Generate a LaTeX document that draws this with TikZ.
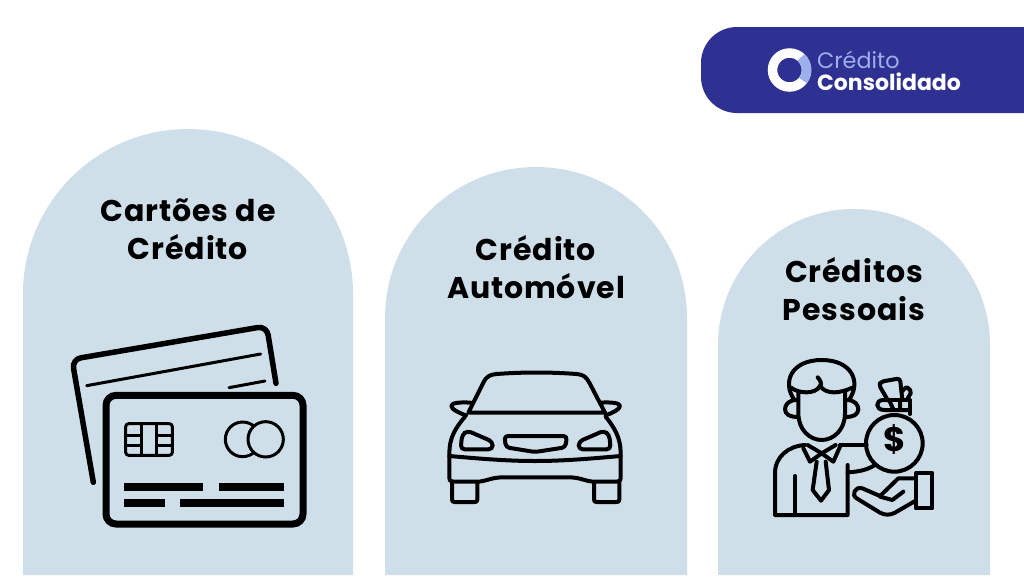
\documentclass[tikz,border=0pt]{standalone}
\usepackage{fontspec}
\newfontfamily\titlefont[LetterSpace=3]{Poppins}
\newfontfamily\logofont{Poppins}
\definecolor{archblue}{HTML}{CFDFEA}
\definecolor{logoblue}{HTML}{2E3192}
\definecolor{logolight}{HTML}{9DB0EC}
\tikzset{
  title/.style={align=center,font=\titlefont\bfseries\fontsize{30}{38}\selectfont},
  icon/.style={line width=4pt,line cap=round,line join=round},
  thin icon/.style={line width=3pt,line cap=butt,line join=round},
}
\begin{document}
\begin{tikzpicture}[x=1pt,y=-1pt]
\useasboundingbox (0,0) rectangle (1024,576);
\fill[white] (0,0) rectangle (1024,576);

% arches
\fill[archblue] (23,575) -- (23,294) arc (180:360:165) -- (353,575) -- cycle;
\fill[archblue] (385,575) -- (385,318) arc (180:360:151) -- (687,575) -- cycle;
\fill[archblue] (718,575) -- (718,345) arc (180:360:136) -- (990,575) -- cycle;

\node[title] (cards) at (188,229) {Cartões de\\Crédito};
\node[title] (auto) at (536,267) {Crédito\\Automóvel};
\node[title] (personal) at (854,289.5) {Créditos\\Pessoais};

% logo
\fill[logoblue] (1024,27) -- (737,27) arc (270:180:36) -- (701,77) arc (180:90:36) -- (1024,113) -- cycle;
\draw[white,line width=9.5pt] (789.5,70) circle (17);
\draw[logolight,line width=9.5pt] (789.5,70) ++(-48:17) arc (-48:38:17);
\node[anchor=west,inner sep=0pt,text=logolight,font=\logofont\fontsize{22.3}{24}\selectfont] (credit) at (817,60) {Crédito};
\node[anchor=west,inner sep=0pt,text=white,font=\logofont\bfseries\fontsize{22}{24}\selectfont] (consol) at (817,82) {Consolidado};

% card
\begin{scope}[shift={(60,320)},scale=1/3]
\draw[line width=5.5pt,line cap=round,rounded corners=9pt] (100,487) -- (36,118) -- (620,18) -- (648,190);
\draw[line width=3pt,line cap=round] (80,197) -- (602,102);
\draw[line width=3pt,line cap=round] (507,203) -- (615,183);
\draw[line width=7pt,rounded corners=10pt] (138,226) rectangle (729,612);
\draw[thin icon,rounded corners=3pt] (197,311) rectangle (337,406);
\draw[thin icon] (243,311) -- (243,406) (290,311) -- (290,406);
\draw[thin icon] (197,345) -- (243,345) (197,375) -- (243,375) (290,345) -- (337,345) (290,375) -- (337,375);
\draw[thin icon] (548,358) circle (52);
\draw[thin icon,fill=archblue] (617,358) circle (53);
\fill (193,490) rectangle (430,513);
\fill (477,490) rectangle (673,513);
\fill (193,538) rectangle (314,560);
\fill (361,538) rectangle (673,560);
\end{scope}

% car
\begin{scope}[shift={(440,360)},scale=1/3,icon]
\draw (85,158) -- (130,68) .. controls (140,48) and (150,44) .. (170,42) .. controls (250,36) and (330,36) .. (410,42) .. controls (430,44) and (438,50) .. (448,68) -- (495,158) -- cycle;
\draw (75,170) .. controls (45,205) and (28,235) .. (28,280) -- (28,352) .. controls (28,362) and (32,365) .. (40,365) -- (110,365) .. controls (140,365) and (150,352) .. (190,352) -- (385,352) .. controls (425,352) and (435,365) .. (465,365) -- (530,365) .. controls (538,365) and (542,362) .. (542,352) -- (542,280) .. controls (542,235) and (525,205) .. (497,170);
\draw (28,288) .. controls (120,296) and (200,303) .. (285,303) .. controls (370,303) and (450,296) .. (542,288);
\draw (92,128) .. controls (60,126) and (34,128) .. (34,138) .. controls (34,148) and (60,160) .. (78,166);
\draw (482,128) .. controls (510,126) and (540,128) .. (540,138) .. controls (540,148) and (515,160) .. (497,166);
\draw[rounded corners=4pt] (66,225) -- (62,268) -- (158,268) -- (158,245) -- (82,212) -- cycle;
\draw[rounded corners=4pt] (508,225) -- (512,268) -- (416,268) -- (416,245) -- (492,212) -- cycle;
\draw[rounded corners=3.5pt] (193,228) -- (381,228) -- (376,262) -- (285,276) -- (198,262) -- cycle;
\draw (36,368) -- (36,418) .. controls (36,424) and (38,426) .. (44,426) -- (104,426) .. controls (110,426) and (112,424) .. (112,418) -- (112,366);
\draw (462,366) -- (462,418) .. controls (462,424) and (464,426) .. (470,426) -- (530,426) .. controls (536,426) and (538,424) .. (538,418) -- (538,368);
\end{scope}

% person with money bag
\begin{scope}[shift={(765,350)},scale=1/3,icon]
\draw (88,150) .. controls (50,95) and (80,30) .. (170,30) .. controls (260,30) and (290,95) .. (252,150);
\draw (78,113) .. controls (100,130) and (150,135) .. (165,108) .. controls (185,135) and (225,130) .. (262,113);
\draw (165,108) .. controls (172,100) and (165,90) .. (158,82);
\draw (100,125) -- (100,190) .. controls (100,240) and (135,270) .. (170,270) .. controls (205,270) and (240,240) .. (240,190) -- (240,125);
\draw (95,150) .. controls (70,150) and (60,165) .. (60,178) .. controls (60,192) and (75,203) .. (100,200);
\draw (245,150) .. controls (270,150) and (280,165) .. (280,178) .. controls (280,192) and (265,203) .. (240,200);
\draw (248,345) -- (248,495) -- (30,495) -- (30,370) .. controls (30,320) and (70,288) .. (120,285);
\draw (90,378) -- (90,495);
\draw (115,295) -- (135,335) -- (170,310) -- (205,335) -- (225,290);
\draw (128,285) -- (170,310) -- (212,285);
\draw (225,285) -- (305,285);
\draw (155,335) -- (143,420) -- (168,452) -- (192,420) -- (182,335);
\draw (248,367) .. controls (285,365) and (310,358) .. (330,345);
% bag
\draw (388,280) circle (85);
\draw (372,150) -- (355,150) .. controls (330,150) and (330,180) .. (358,180) -- (435,180);
\draw (372,150) -- (435,150) -- (435,192);
\draw (372,150) -- (385,178) (405,150) -- (405,180);
\draw[rounded corners=3pt] (368,150) -- (342,105) -- (348,95) -- (405,85) -- (412,150);
\draw[rounded corners=2pt] (410,125) -- (425,110) -- (440,125) -- (425,150);
\node[font=\logofont\bfseries\fontsize{34}{40}\selectfont] (dollar) at (388,270) {\$};
% hand
\draw (452,385) -- (400,385) -- (345,438) -- (292,415) .. controls (270,408) and (258,435) .. (275,445) -- (345,488) .. controls (360,496) and (375,496) .. (390,488) -- (452,452);
\draw (345,440) -- (382,450) -- (415,425);
\draw (452,370) rectangle (502,475);
\end{scope}
\end{tikzpicture}
\end{document}
